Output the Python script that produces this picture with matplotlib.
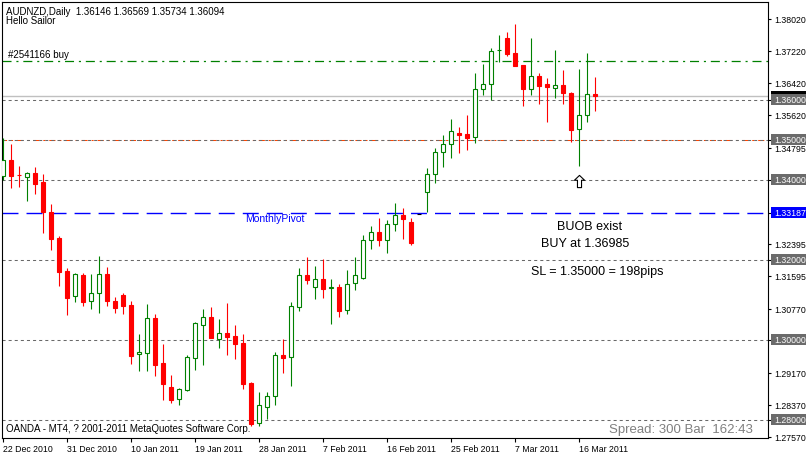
import matplotlib
matplotlib.use('Agg')
import matplotlib.pyplot as plt
import matplotlib.transforms as mtransforms
from matplotlib.path import Path
from matplotlib.patches import Rectangle

plt.rcParams['font.family'] = ['Liberation Sans', 'DejaVu Sans']
plt.rcParams['lines.scale_dashes'] = False

# ---------------- data (AUDNZD daily, 22 Dec 2010 .. 18 Mar 2011) ----------------
opens = [1.3410, 1.3450, 1.34130, 1.34075, 1.34175, 1.3395, 1.3320, 1.3255, 1.31725, 1.3110,
         1.31625, 1.30975, 1.31175, 1.3165, 1.30975, 1.31125, 1.30875, 1.2965, 1.29675, 1.3055,
         1.29425, 1.28825, 1.28525, 1.2875, 1.2955, 1.30375, 1.30575, 1.30025, 1.30175, 1.3010,
         1.29925, 1.28925, 1.27925, 1.28325, 1.2860, 1.29625, 1.29575, 1.30825, 1.31625, 1.31325,
         1.31525, 1.3129, 1.31325, 1.3075, 1.31425, 1.3155, 1.3250, 1.3270, 1.3250, 1.3290,
         1.33125, 1.3295, 1.3315, 1.3370, 1.3415, 1.3470, 1.3490, 1.35175, 1.3515, 1.35075,
         1.36275, 1.3640, 1.37245, 1.3755, 1.37175, 1.36875, 1.36275, 1.3660, 1.3640, 1.3630,
         1.36375, 1.36175, 1.35275, 1.35625, 1.36146]
highs = [1.3505, 1.3490, 1.3435, 1.3420, 1.34325, 1.3415, 1.3340, 1.3260, 1.3180, 1.3167,
         1.31675, 1.3165, 1.3210, 1.31825, 1.31075, 1.31175, 1.30975, 1.3015, 1.3090, 1.3065,
         1.2990, 1.29125, 1.2880, 1.29625, 1.3045, 1.30775, 1.30825, 1.30525, 1.30925, 1.30375,
         1.3015, 1.2895, 1.2870, 1.2870, 1.2970, 1.30025, 1.3095, 1.3180, 1.32075, 1.3185,
         1.32025, 1.31525, 1.3140, 1.3175, 1.32075, 1.32625, 1.3285, 1.3305, 1.3300, 1.33425,
         1.3330, 1.3305, 1.3315, 1.3430, 1.3480, 1.35125, 1.35525, 1.35325, 1.35625, 1.36675,
         1.3690, 1.3730, 1.37625, 1.3770, 1.3790, 1.36875, 1.3755, 1.36675, 1.3655, 1.3725,
         1.3675, 1.3620, 1.36775, 1.37175, 1.36569]
lows = [1.3400, 1.3380, 1.33825, 1.33475, 1.3365, 1.32675, 1.3225, 1.3135, 1.30625, 1.3095,
        1.3085, 1.30775, 1.30675, 1.3085, 1.30675, 1.3065, 1.2940, 1.29225, 1.29225, 1.2910,
        1.2850, 1.2842, 1.28375, 1.28725, 1.2925, 1.29375, 1.3005, 1.2980, 1.29625, 1.29525,
        1.28775, 1.2785, 1.2785, 1.28025, 1.28375, 1.29175, 1.2885, 1.30725, 1.3140, 1.31025,
        1.3105, 1.3040, 1.30575, 1.3065, 1.3125, 1.31525, 1.32275, 1.3235, 1.32175, 1.32725,
        1.32525, 1.32375, 1.3315, 1.3320, 1.33925, 1.34325, 1.3455, 1.34675, 1.3475, 1.34925,
        1.36125, 1.3600, 1.3695, 1.3710, 1.3685, 1.3585, 1.36125, 1.3590, 1.3545, 1.3605,
        1.3590, 1.3495, 1.3435, 1.3545, 1.35734]
closes = [1.3450, 1.3410, 1.34120, 1.34175, 1.3390, 1.3320, 1.32525, 1.3170, 1.3105, 1.3165,
          1.3095, 1.31175, 1.3165, 1.30975, 1.3080, 1.3085, 1.2960, 1.2970, 1.3055, 1.29375,
          1.2890, 1.2850, 1.28775, 1.29575, 1.30425, 1.30575, 1.3005, 1.30175, 1.30075, 1.2990,
          1.2890, 1.2790, 1.28375, 1.2860, 1.29625, 1.2955, 1.3085, 1.31625, 1.3150, 1.31525,
          1.31275, 1.3132, 1.30725, 1.3140, 1.31625, 1.3250, 1.3270, 1.3250, 1.3290, 1.33125,
          1.33025, 1.32425, 1.3315, 1.3415, 1.3470, 1.3490, 1.35225, 1.35125, 1.3505, 1.36275,
          1.3640, 1.37225, 1.3725, 1.3715, 1.3685, 1.36275, 1.3660, 1.3635, 1.36325, 1.36375,
          1.36175, 1.3525, 1.35625, 1.3615, 1.36094]

date_positions = [0, 8, 16, 24, 32, 40, 48, 56, 64, 72]
date_labels = ['22 Dec 2010', '31 Dec 2010', '10 Jan 2011', '19 Jan 2011', '28 Jan 2011',
               '7 Feb 2011', '16 Feb 2011', '25 Feb 2011', '7 Mar 2011', '16 Mar 2011']
price_ticks = [1.38020, 1.37220, 1.36420, 1.35620, 1.34795, 1.32395, 1.31595,
               1.30770, 1.29170, 1.28370, 1.27570]
round_levels = [1.36, 1.35, 1.34, 1.32, 1.30, 1.28]
pivot_level = 1.33187
buy_price = 1.36985
sl_price = 1.35000
bid_price = 1.36094
signal_bar = 72
signal_price = 1.33975

# ---------------- figure ----------------
W, H = 806, 455
fig = plt.figure(figsize=(W / 100, H / 100), dpi=100)
fig.patch.set_facecolor('white')
L, R, T, B = 2, 768, 2, 438
ax = fig.add_axes([L / W, 1 - B / H, (R - L) / W, (B - T) / H])
ax.set_facecolor('white')
ymin, ymax = 1.2755, 1.3845
ax.set_xlim(-0.125, 95.625)
ax.set_ylim(ymin, ymax)
ppx = (ymax - ymin) / (B - T)
SCALE_FS = 6.3

def fpx(x, y):
    return x / W, 1 - y / H

# level lines
for lv in round_levels:
    ax.axhline(lv, color='#696969', lw=0.75, ls=(0, (2.2, 2.2)), zorder=2)
ax.axhline(sl_price, color='#ff4500', lw=0.75, ls=(1.1, (4.4, 2.9, 1.4, 2.9)), zorder=1.9)
ax.axhline(buy_price, color='#008000', lw=0.9, ls=(0, (6.5, 3.5, 1.5, 3.5)), zorder=2)
ax.axhline(bid_price, color='#c0c0c0', lw=1.0, zorder=1.8)
ax.axhline(pivot_level, color='#0000ff', lw=1.0, ls=(0, (11.5, 5.8)), zorder=2)

# candles
n = len(opens)
xs = list(range(n))
bull, bear, neutral = '#008000', '#ff0000', '#000000'
cols, faces, bottoms, heights = [], [], [], []
for o, c in zip(opens, closes):
    if c > o:
        cols.append(bull); faces.append('white')
    elif c < o:
        cols.append(bear); faces.append(bear)
    else:
        cols.append(neutral); faces.append(neutral)
    bottoms.append(min(o, c))
    heights.append(abs(c - o))
ax.vlines(xs, lows, highs, colors=cols, lw=0.8, zorder=3)
ax.bar(xs, heights, bottom=bottoms, width=0.5, color=faces, edgecolor=cols,
       linewidth=0.8, zorder=4)

# signal arrow
arrow = Path([(0, 0.6), (0.5, 0.12), (0.2, 0.12), (0.2, -0.6), (-0.2, -0.6),
              (-0.2, 0.12), (-0.5, 0.12), (0, 0.6)],
             [Path.MOVETO] + [Path.LINETO] * 6 + [Path.CLOSEPOLY])
ax.plot([signal_bar], [signal_price], marker=arrow, ms=8.8, mfc='white', mec='black',
        mew=0.8, ls='none', zorder=6)

# axes styling
for s in ax.spines.values():
    s.set_color('black')
    s.set_linewidth(0.8)
ax.yaxis.tick_right()
ax.set_yticks(price_ticks)
ax.set_yticklabels([f'{v:.5f}' for v in price_ticks])
ax.set_yticks(round_levels + [pivot_level], minor=True)
ax.tick_params(axis='y', which='both', direction='out', length=2.5, width=0.8,
               pad=2.2, labelsize=SCALE_FS, colors='black')
ax.set_xticks(date_positions)
ax.set_xticklabels(date_labels, ha='left')
ax.tick_params(axis='x', direction='out', length=3, width=0.8, pad=1.8, labelsize=SCALE_FS)
for lab in ax.get_xticklabels():
    lab.set_horizontalalignment('left')

# price boxes on the right scale
trans = mtransforms.blended_transform_factory(ax.transAxes, ax.transData)
def price_box(val, fc, z, label=True):
    ax.add_patch(Rectangle((1 + 3 / (R - L), val - 5.5 * ppx), 60 / (R - L), 11 * ppx,
                           transform=trans, fc=fc, ec='none', clip_on=False, zorder=z))
    if label:
        ax.text(1 + 6.5 / (R - L), val - 3.4 * ppx, f'{val:.5f}', transform=trans,
                ha='left', va='baseline', color='white', fontsize=SCALE_FS,
                clip_on=False, zorder=z + 0.1)

price_box(bid_price, '#000000', 5, label=False)
for lv in round_levels:
    price_box(lv, '#6b6b6b', 6)
price_box(pivot_level, '#0000ff', 6)

# texts
fig.text(*fpx(6, 15), 'AUDNZD,Daily  1.36146 1.36569 1.35734 1.36094', fontsize=7,
         ha='left', va='baseline')
fig.text(*fpx(6, 24.5), 'Hello Sailor', fontsize=7, ha='left', va='baseline')
fig.text(*fpx(8, 58.5), '#2541166 buy', fontsize=7, ha='left', va='baseline')
fig.text(*fpx(245, 221.7), 'MonthlyPivot', fontsize=7.5, color='#0000ff', ha='left',
         va='baseline')
fig.text(*fpx(557, 229.5), 'BUOB exist', fontsize=9, ha='left', va='baseline')
fig.text(*fpx(541, 247.5), 'BUY at 1.36985', fontsize=9, ha='left', va='baseline')
fig.text(*fpx(531, 275), 'SL = 1.35000 = 198pips', fontsize=9, ha='left', va='baseline')
fig.text(*fpx(6, 432.5), 'OANDA - MT4, ? 2001-2011 MetaQuotes Software Corp.', fontsize=7,
         ha='left', va='baseline')
fig.text(*fpx(609, 433.3), 'Spread: 300 Bar  162:43', fontsize=9.5, color='#808080',
         ha='left', va='baseline')

fig.savefig('out.png', dpi=100, facecolor='white')
